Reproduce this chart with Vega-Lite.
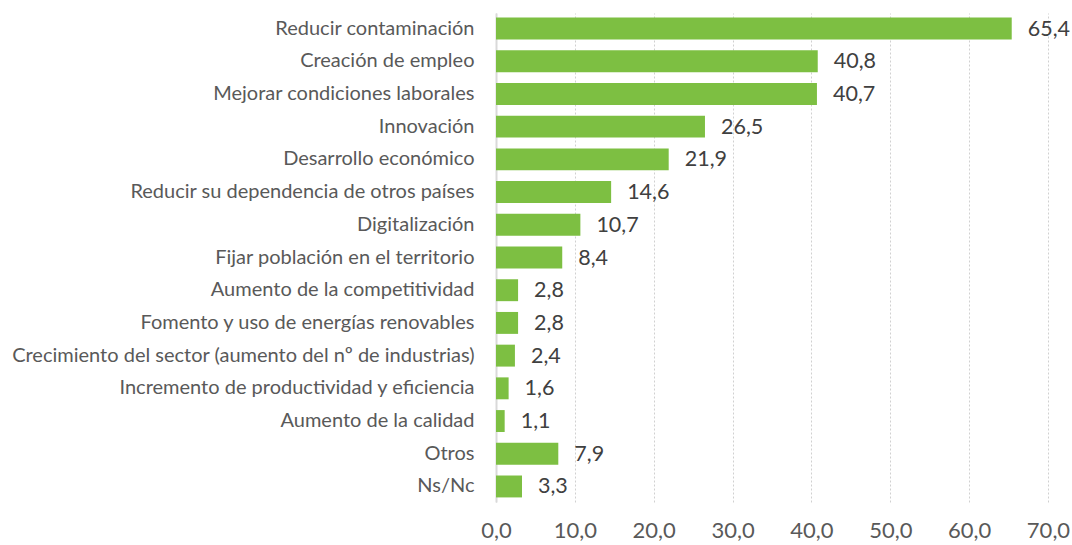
{
  "$schema": "https://vega.github.io/schema/vega-lite/v6.json",
  "width": 552,
  "height": 489,
  "autosize": {"type": "none"},
  "padding": {"left": 496, "top": 13, "right": 24, "bottom": 43},
  "background": "white",
  "config": {
    "view": {"stroke": null},
    "font": "Lato",
    "locale": {"number": {"decimal": ",", "thousands": ".", "grouping": [3], "currency": ["", " €"]}}
  },
  "data": {
    "values": [
      {"cat": "Reducir contaminación", "v": 65.4},
      {"cat": "Creación de empleo", "v": 40.8},
      {"cat": "Mejorar condiciones laborales", "v": 40.7},
      {"cat": "Innovación", "v": 26.5},
      {"cat": "Desarrollo económico", "v": 21.9},
      {"cat": "Reducir su dependencia de otros países", "v": 14.6},
      {"cat": "Digitalización", "v": 10.7},
      {"cat": "Fijar población en el territorio", "v": 8.4},
      {"cat": "Aumento de la competitividad", "v": 2.8},
      {"cat": "Fomento y uso de energías renovables", "v": 2.8},
      {"cat": "Crecimiento del sector (aumento del nº de industrias)", "v": 2.4},
      {"cat": "Incremento de productividad y eficiencia", "v": 1.6},
      {"cat": "Aumento de la calidad", "v": 1.1},
      {"cat": "Otros", "v": 7.9},
      {"cat": "Ns/Nc", "v": 3.3}
    ]
  },
  "encoding": {
    "y": {
      "field": "cat", "type": "nominal", "sort": null, "title": null,
      "scale": {"paddingInner": 0.33, "paddingOuter": 0.14},
      "axis": {"ticks": false, "domainColor": "#D9D9D9", "domainWidth": 2, "labelFontSize": 20, "labelColor": "#595959", "labelPadding": 22, "labelLimit": 600, "grid": false}
    },
    "x": {
      "field": "v", "type": "quantitative", "title": null,
      "scale": {"domain": [0, 70], "nice": false},
      "axis": {"values": [0, 10, 20, 30, 40, 50, 60, 70], "format": ".1f", "domain": false, "ticks": false, "grid": true, "gridColor": "#D0D0D0", "gridDash": [2, 2], "gridWidth": 1, "labelFontSize": 22, "labelColor": "#595959", "labelPadding": 18, "labelFlush": false}
    }
  },
  "layer": [
    {"mark": {"type": "bar", "color": "#7DBF42"}},
    {"mark": {"type": "text", "align": "left", "dx": 16, "fontSize": 21.5, "color": "#404040", "baseline": "middle", "dy": 1}, "encoding": {"text": {"field": "v", "type": "quantitative", "format": ".1f"}}}
  ]
}
